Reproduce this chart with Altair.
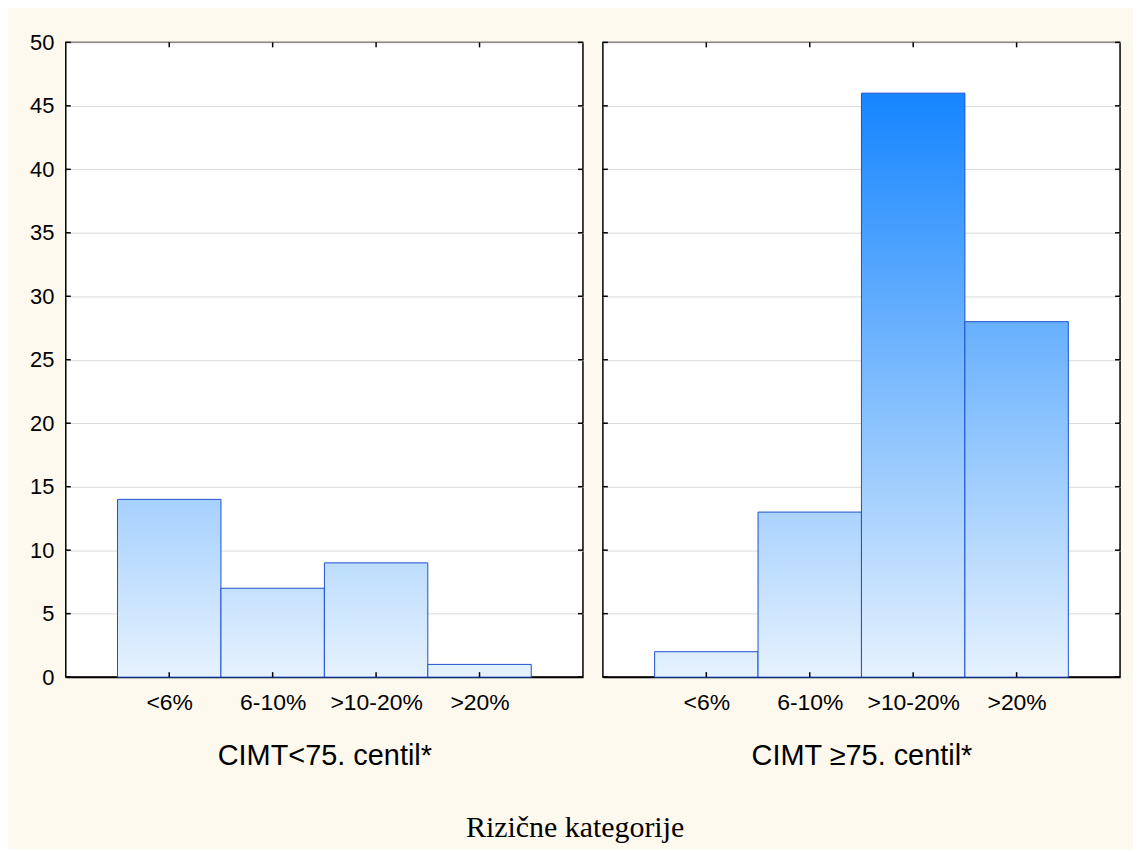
import json
import altair as alt
import pandas as pd

# ---- data ----
categories = ["<6%", "6-10%", ">10-20%", ">20%"]
values_low = [14, 7, 9, 1]      # CIMT < 75. centil
values_high = [2, 13, 46, 28]   # CIMT >= 75. centil
panel_titles = ["CIMT<75. centil*", "CIMT \u226575. centil*"]
y_ticks = [0, 5, 10, 15, 20, 25, 30, 35, 40, 45, 50]
x_title = "Rizične kategorije"

# ---- style ----
W, H = 519, 637
FONT = "Liberation Sans"
CREAM = "#FEF9EE"
BOTTOM_RGB = (230, 242, 253)
TOP_RGB = (21, 133, 255)
VMAX = max(values_low + values_high)
BAR_STROKE = "#1F50CF"


def shade(v):
    t = v / VMAX
    r, g, b = (round(a + (c - a) * t) for a, c in zip(BOTTOM_RGB, TOP_RGB))
    return f"#{r:02x}{g:02x}{b:02x}"


label_expr = f"{json.dumps(categories)}[datum.value - 1]"


def panel(values, title, show_labels):
    pos = list(range(1, len(categories) + 1))
    df = pd.DataFrame({
        "pos": pos,
        "left": [p - 0.5 for p in pos],
        "right": [p + 0.5 for p in pos],
        "v": values,
        "zero": [0] * len(pos),
    })
    yt = pd.DataFrame({"t": y_ticks})

    def X(field):
        return alt.X(field, scale=alt.Scale(domain=[0, 5], nice=False, zero=False),
                     axis=alt.Axis(
                         values=pos, labelExpr=label_expr, ticks=False, grid=False,
                         domain=True, domainColor="black", domainWidth=1.5,
                         title=title, labelFont=FONT, labelFontSize=23,
                         labelColor="black", labelPadding=15, titleFont=FONT,
                         titleFontSize=29, titleFontWeight="normal",
                         titleColor="black", titlePadding=27))

    def Y(field):
        return alt.Y(field, scale=alt.Scale(domain=[0, 50], nice=False),
                     axis=alt.Axis(
                         values=y_ticks, grid=True, gridColor="#DADADA",
                         gridWidth=1, ticks=False, domain=False,
                         labels=show_labels, labelFont=FONT, labelFontSize=22,
                         labelColor="black", labelPadding=12, title=None,
                         minExtent=0))

    layers = []
    for i, v in enumerate(values):
        grad = alt.LinearGradient(
            gradient="linear",
            stops=[alt.GradientStop(color=shade(0), offset=0),
                   alt.GradientStop(color=shade(v), offset=1)],
            x1=0, x2=0, y1=1, y2=0,
        )
        layers.append(
            alt.Chart(df)
            .transform_filter(alt.datum.pos == pos[i])
            .mark_rect(fill=grad, stroke=BAR_STROKE, strokeWidth=1)
            .encode(x=X("left:Q"), x2="right:Q", y=Y("v:Q"), y2="zero:Q")
        )

    rule = dict(color="black", strokeWidth=1.5)
    layers += [
        alt.Chart(yt).mark_rule(**rule).encode(
            y=Y("t:Q"), x=alt.value(0), x2=alt.value(5)),
        alt.Chart(yt).mark_rule(**rule).encode(
            y=Y("t:Q"), x=alt.value(W - 5), x2=alt.value(W)),
        alt.Chart(df).mark_rule(**rule).encode(
            x=X("pos:Q"), y=alt.value(H - 5), y2=alt.value(H)),
        alt.Chart(df).mark_rule(**rule).encode(
            x=X("pos:Q"), y=alt.value(0), y2=alt.value(5)),
    ]
    return alt.layer(*layers).properties(width=W, height=H)


left = panel(values_low, panel_titles[0], True)
right = panel(values_high, panel_titles[1], False)

chart = (
    alt.hconcat(left, right, spacing=16)
    .properties(title=alt.TitleParams(
        text=x_title, orient="bottom", anchor="middle",
        font="Liberation Serif", fontSize=30, fontWeight="normal",
        color="black", offset=42))
    .configure(background=CREAM,
               padding={"left": 20, "top": 21, "right": 11, "bottom": 4})
    .configure_view(fill="white", stroke="black", strokeWidth=1.5)
)

chart.save("out.html", embed_options={"renderer": "svg", "actions": False})
